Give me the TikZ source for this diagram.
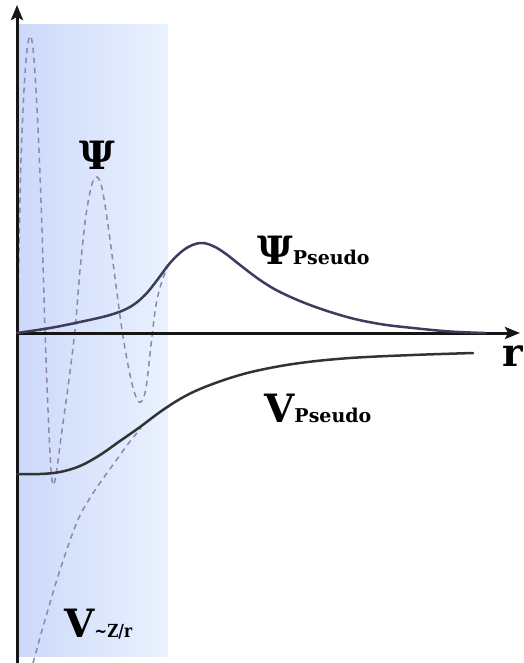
\documentclass[tikz,border=0pt]{standalone}
\usepackage{fontspec}
\setmainfont{DejaVu Serif}
\usetikzlibrary{arrows.meta}
\definecolor{dashc}{HTML}{8C88A8}
\definecolor{psic}{HTML}{3D3B5E}
\definecolor{vpc}{HTML}{333333}
\definecolor{axc}{HTML}{151515}
\definecolor{shadeL}{HTML}{CCD8FA}
\definecolor{shadeR}{HTML}{EAF2FE}
\tikzset{
  axis/.style={draw=axc, line width=3pt, -{Stealth[length=15pt,width=12pt,inset=3pt]}},
  solidcurve/.style={line width=2.5pt, line cap=round},
  dashcurve/.style={draw=dashc, line width=1.5pt, dash pattern=on 5.5pt off 4.5pt},
  biglab/.style={inner sep=0pt, anchor=base west, font=\bfseries\fontsize{39pt}{42pt}\selectfont},
}
\newcommand{\subl}[1]{{\fontsize{19pt}{21pt}\selectfont #1}}
\begin{document}
\begin{tikzpicture}[x=1pt,y=-1pt]
\useasboundingbox (0,0) rectangle (523,663);
\shade[left color=shadeL, right color=shadeR] (17,25) rectangle (168,656);

% dashed all-electron wavefunction
\draw[dashcurve] plot[smooth, tension=0.55] coordinates {
 (17.5,333) (19,250) (21,160) (24,90) (27,50) (30,36) (33,48) (36,90) (39,150)
 (42,230) (45,330) (48,410) (51,470) (53.5,485) (57,468) (62,430) (68,387) (75,330)
 (80,270) (86,215) (92,184) (97,177) (102,188) (108,225) (114,270) (122,330)
 (130,375) (136,397) (141,402) (146,388) (151,345) (156,305) (162,281) (168,266)};

% dashed Z/r potential
\draw[dashcurve] plot[smooth, tension=0.6] coordinates {
 (33,663) (45,620) (60,570) (77,522) (90,498) (102,480) (115,462) (128,444) (141,428)};

% axes
\coordinate (o) at (17,333);
\coordinate (ytop) at (17,5);
\coordinate (ybot) at (17,663);
\coordinate (xend) at (520,333);
\draw[axis] (ybot) -- (ytop);
\draw[axis] (o) -- (xend);

% pseudo wavefunction
\draw[solidcurve, draw=psic] plot[smooth, tension=0.6] coordinates {
 (17,333) (50,328) (80,322) (110,315) (130,307) (145,295) (158,279) (170,263)
 (185,249) (200,243) (213,246) (226,254) (240,265) (260,280) (280,292) (310,305)
 (347,317) (380,324) (413,328) (450,331.5) (485,333)};

% pseudo potential
\draw[solidcurve, draw=vpc] plot[smooth, tension=0.6] coordinates {
 (17,474) (40,474) (60,472) (80,466) (100,455) (120,441) (140,427) (160,412)
 (180,399) (200,389) (230,378) (260,370) (300,363) (350,358) (413,355) (473,353)};

% labels
\node[biglab, anchor=base] (psi) at (97,170) {Ψ};
\node[biglab] (psip) at (257,264) {Ψ\subl{Pseudo}};
\node[biglab] (vp) at (264,422) {V\subl{Pseudo}};
\node[biglab] (vz) at (64,637) {V{\fontsize{18pt}{20pt}\selectfont\addfontfeature{FakeStretch=0.85}\char"007E Z/r}};
\node[biglab] (r) at (502,366) {r};
\end{tikzpicture}
\end{document}
